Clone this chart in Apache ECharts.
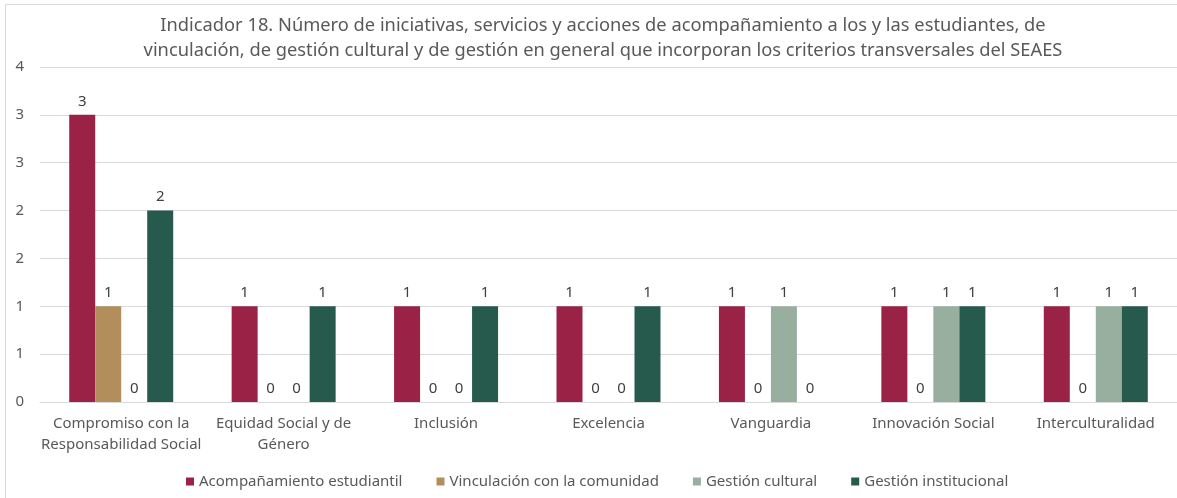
<!DOCTYPE html>
<html>
<head>
<meta charset="utf-8">
<script src="https://cdn.jsdelivr.net/npm/echarts@6/dist/echarts.min.js"></script>
<style>
  html, body { margin: 0; padding: 0; background: #fff; }
  #chart { width: 1177px; height: 498px; }
</style>
</head>
<body>
<div id="chart"></div>
<script>
// Categories (criterios transversales)
const categories = [
  'Compromiso con la\nResponsabilidad Social',
  'Equidad Social y de\nGénero',
  'Inclusión',
  'Excelencia',
  'Vanguardia',
  'Innovación Social',
  'Interculturalidad'
];

// Series values
const acompanamiento = [3, 1, 1, 1, 1, 1, 1];
const vinculacion    = [1, 0, 0, 0, 0, 0, 0];
const gestionCultural = [0, 0, 0, 0, 1, 1, 1];
const gestionInstitucional = [2, 1, 1, 1, 0, 1, 1];

// Y tick labels (rounded display of 0, 0.5, ... 3.5)
const yTickLabels = ['0', '1', '1', '2', '2', '3', '3', '4'];

const seriesNames = [
  'Acompañamiento estudiantil',
  'Vinculación con la comunidad',
  'Gestión cultural',
  'Gestión institucional'
];
const seriesData = [acompanamiento, vinculacion, gestionCultural, gestionInstitucional];
const colors = ['#9B2247', '#B38E5D', '#98AF9F', '#255A4C'];

const FONT = '"Noto Sans", "Open Sans", sans-serif';
const textGray = '#595959';

const chart = echarts.init(document.getElementById('chart'), null, { renderer: 'canvas' });

chart.setOption({
  animation: false,
  color: colors,
  textStyle: { fontFamily: FONT },
  title: {
    text: 'Indicador 18. Número de iniciativas, servicios y acciones de acompañamiento a los y las estudiantes, de\nvinculación, de gestión cultural y de gestión en general que incorporan los criterios transversales del SEAES',
    left: 598,
    textAlign: 'center',
    top: 8,
    textStyle: {
      fontFamily: FONT,
      fontSize: 18.3,
      fontWeight: 'normal',
      color: textGray,
      lineHeight: 25
    }
  },
  graphic: [{
    type: 'rect',
    shape: { x: 5.5, y: 4.5, width: 1190, height: 500 },
    style: { fill: 'none', stroke: '#D9D9D9', lineWidth: 1 },
    silent: true,
    z: -1
  }],
  legend: {
    bottom: 4,
    left: 181,
    itemWidth: 8,
    itemHeight: 8,
    itemGap: 34,
    icon: 'rect',
    textStyle: { fontFamily: FONT, fontSize: 15, color: textGray },
    data: seriesNames
  },
  grid: {
    left: 40,
    top: 67,
    width: 1138,
    height: 335,
    containLabel: false
  },
  xAxis: {
    type: 'category',
    data: categories,
    axisLine: { show: true, lineStyle: { color: '#D9D9D9' } },
    axisTick: { show: false },
    axisLabel: {
      fontFamily: FONT,
      fontSize: 15,
      color: textGray,
      lineHeight: 21,
      margin: 11,
      interval: 0
    }
  },
  yAxis: {
    type: 'value',
    min: 0,
    max: 3.5,
    interval: 0.5,
    axisLine: { show: false },
    axisTick: { show: false },
    splitLine: { lineStyle: { color: '#D9D9D9' } },
    axisLabel: {
      fontFamily: FONT,
      fontSize: 15,
      color: textGray,
      margin: 16,
      formatter: v => yTickLabels[Math.round(v / 0.5)]
    }
  },
  series: seriesNames.map((name, i) => ({
    name,
    type: 'bar',
    data: seriesData[i],
    barWidth: 26,
    barGap: '0%',
    itemStyle: { color: colors[i] },
    label: {
      show: true,
      position: 'top',
      distance: 6,
      fontFamily: FONT,
      fontSize: 15,
      color: '#404040'
    }
  }))
});
</script>
</body>
</html>
